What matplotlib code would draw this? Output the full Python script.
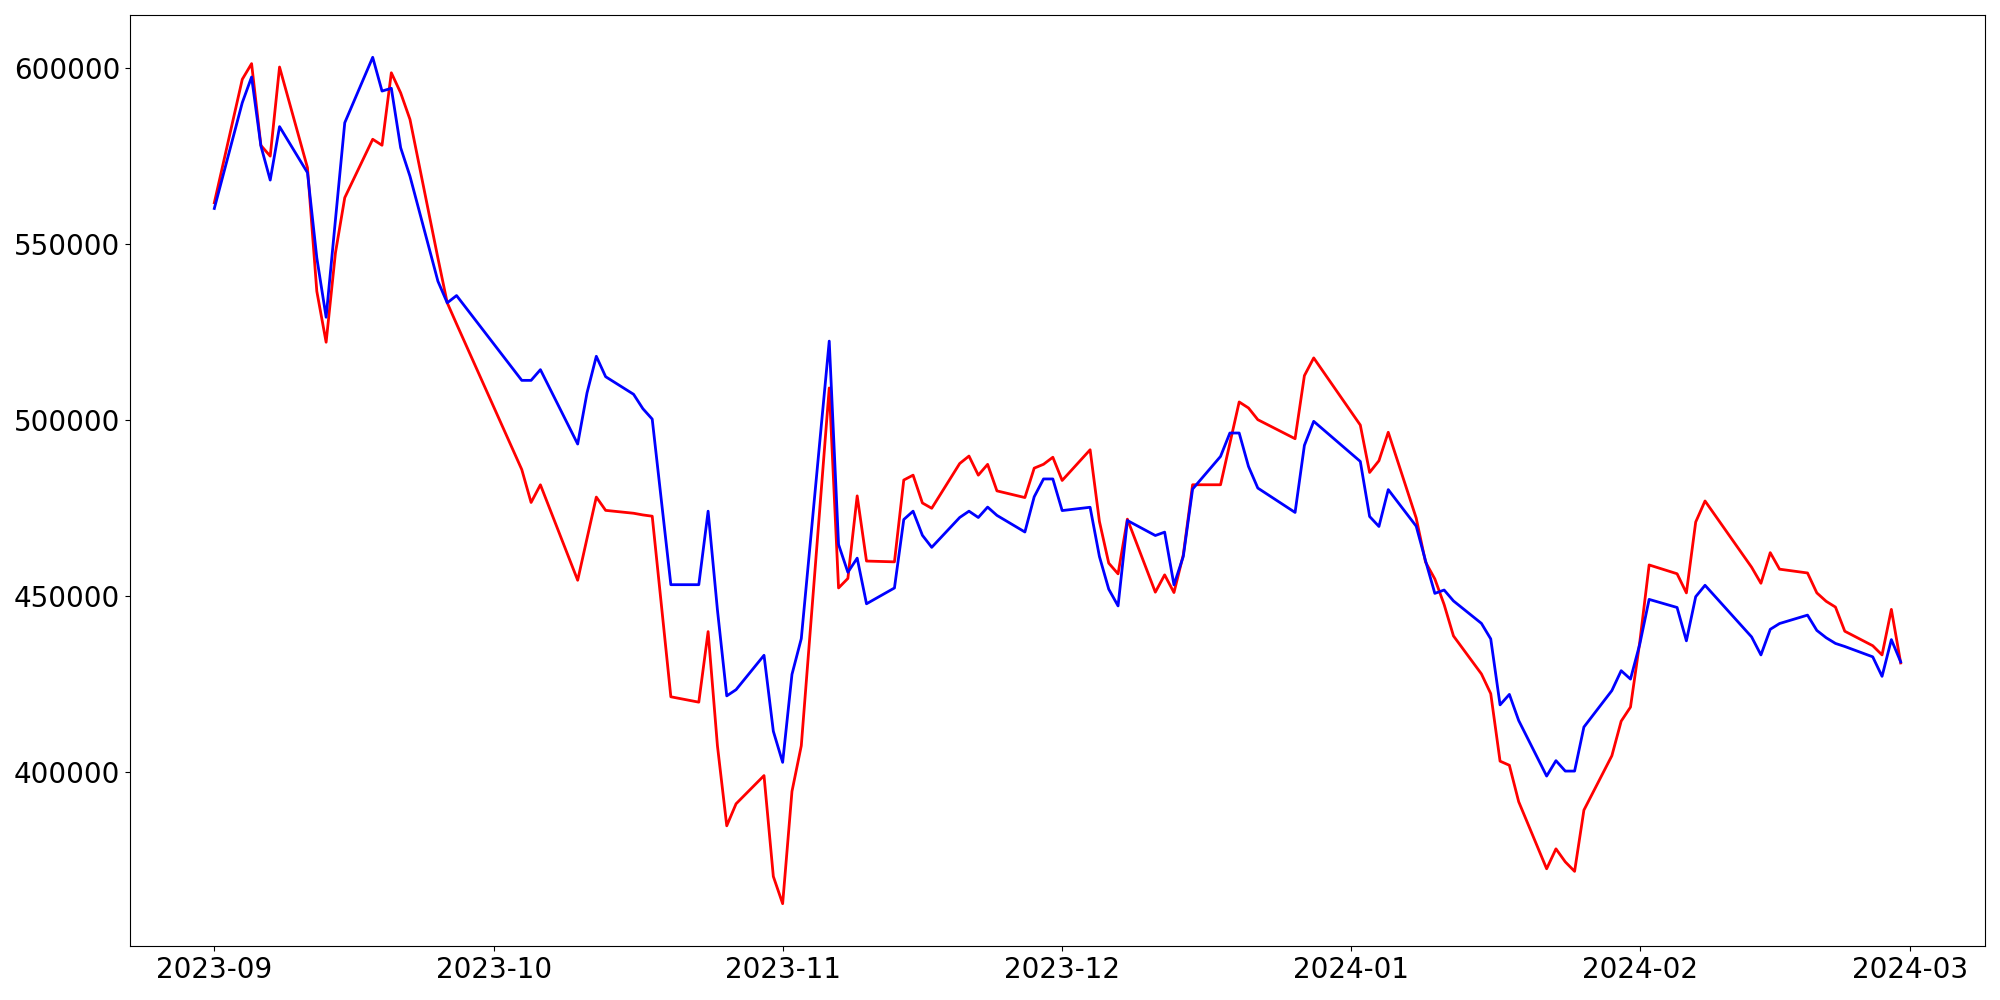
import matplotlib
matplotlib.use("Agg")
import matplotlib.pyplot as plt
import matplotlib.dates as mdates
import pandas as pd

sep = [1, 4, 5, 6, 7, 8, 11, 12, 13, 14, 15, 18, 19, 20, 21, 22, 25, 26, 27]
oct_ = [4, 5, 6, 10, 11, 12, 13, 16, 17, 18, 19, 20, 23, 24, 25, 26, 27, 30, 31]
nov = [1, 2, 3, 6, 7, 8, 9, 10, 13, 14, 15, 16, 17, 20, 21, 22, 23, 24, 27, 28, 29, 30]
dec = [1, 4, 5, 6, 7, 8, 11, 12, 13, 14, 15, 18, 19, 20, 21, 22, 26, 27, 28]
jan = [2, 3, 4, 5, 8, 9, 10, 11, 12, 15, 16, 17, 18, 19, 22, 23, 24, 25, 26, 29, 30, 31]
feb = [1, 2, 5, 6, 7, 8, 13, 14, 15, 16, 19, 20, 21, 22, 23, 26, 27, 28, 29]

dates = ([f"2023-09-{d:02d}" for d in sep] + [f"2023-10-{d:02d}" for d in oct_] +
         [f"2023-11-{d:02d}" for d in nov] + [f"2023-12-{d:02d}" for d in dec] +
         [f"2024-01-{d:02d}" for d in jan] + [f"2024-02-{d:02d}" for d in feb])

red_values = [
    # Sep
    561750, 596840, 601300, 578060, 575000, 600340, 571700, 536600, 522100, 547500,
    563200, 579800, 578100, 598700, 593000, 585450, 546000, 533300, 527300,
    # Oct
    485900, 476540, 481570, 454430, 466300, 478080, 474300, 473480, 473000, 472640,
    447000, 421300, 419770, 439830, 407380, 384620, 390880, 398900, 370220,
    # Nov
    362480, 394400, 407380, 509100, 452240, 454940, 478420, 459890, 459660, 482920,
    484310, 476400, 474890, 487610, 489740, 484310, 487380, 479840, 477940, 486300,
    487400, 489400,
    # Dec
    482800, 491530, 471140, 459290, 456250, 471800, 451040, 455960, 450930, 461650,
    481580, 481580, 493340, 505120, 503410, 500080, 494670, 512600, 517640,
    # Jan
    498550, 485070, 488410, 496500, 472100, 459600, 454800, 447500, 438600, 427800,
    422200, 403000, 401830, 391470, 372400, 378070, 374370, 371670, 389080, 404540,
    414360, 418370,
    # Feb
    436900, 458780, 456280, 450840, 470990, 476970, 458130, 453570, 462280, 457580,
    456500, 450840, 448450, 446800, 439940, 435820, 433200, 446150, 430920,
]

blue_values = [
    # Sep
    560130, 590200, 597500, 577900, 568200, 583400, 570300, 546100, 529200, 556900,
    584500, 603100, 593500, 594300, 577400, 569300, 539440, 533300, 535370,
    # Oct
    511260, 511260, 514300, 493160, 507670, 518100, 512300, 507300, 503200, 500250,
    476700, 453170, 453170, 474070, 446000, 421560, 423320, 433100, 411500,
    # Nov
    402660, 427670, 437830, 522420, 464610, 456700, 460720, 447740, 452240, 471700,
    474070, 467210, 463790, 472270, 474070, 472270, 475230, 472870, 468150, 478170,
    483230, 483230,
    # Dec
    474240, 475180, 461180, 451890, 447140, 471420, 467150, 468110, 453120, 461180,
    480350, 489640, 496290, 496290, 486790, 480640, 473710, 492780, 499610,
    # Jan
    488210, 472560, 469720, 480200, 469800, 460000, 450700, 451650, 448550, 442170,
    437760, 419000, 421980, 414550, 398760, 403140, 400180, 400180, 412700, 423060,
    428720, 426330,
    # Feb
    436300, 448990, 446690, 437210, 449760, 453000, 438320, 433200, 440480, 442130,
    444520, 440170, 438090, 436470, 435600, 432660, 427110, 437550, 431230,
]

x = pd.to_datetime(dates)

fig = plt.figure(figsize=(20, 10), dpi=100)
ax = fig.add_subplot(111)
fig.subplots_adjust(left=0.065, right=0.9925, top=0.985, bottom=0.054)

ax.plot(x, red_values, color="red", linewidth=2)
ax.plot(x, blue_values, color="blue", linewidth=2)

ax.xaxis.set_major_locator(mdates.MonthLocator())
ax.xaxis.set_major_formatter(mdates.DateFormatter("%Y-%m"))
ax.tick_params(axis="both", labelsize=20)

fig.savefig("out.png", dpi=100)
